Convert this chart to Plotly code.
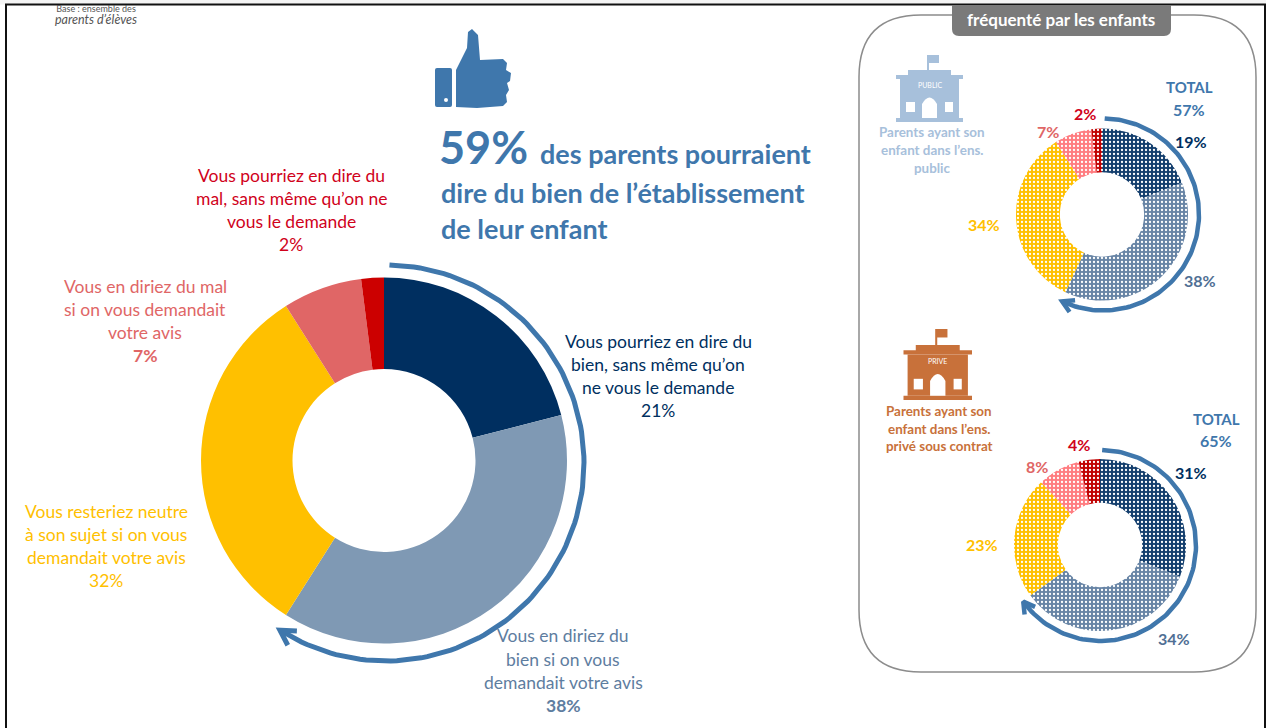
import numpy as np
import plotly.graph_objects as go

# ---------- data ----------
categories = [
    "Vous pourriez en dire du bien, sans même qu’on ne vous le demande",
    "Vous en diriez du bien si on vous demandait votre avis",
    "Vous resteriez neutre à son sujet si on vous demandait votre avis",
    "Vous en diriez du mal si on vous demandait votre avis",
    "Vous pourriez en dire du mal, sans même qu’on ne vous le demande",
]
all_parents = [21, 38, 32, 7, 2]
public_parents = [19, 38, 34, 7, 2]
private_parents = [31, 34, 23, 8, 4]
total_all = 59
total_public = 57
total_private = 65

colors_solid = ["#002F60", "#7F99B4", "#FFC000", "#E06666", "#CC0000"]
colors_hatched = ["#123D6C", "#6784A5", "#FFC000", "#FF7C80", "#C00000"]

FONT = "Lato, 'Open Sans', sans-serif"
BLUE = "#3F77AC"
W, H = 1266, 728

fig = go.Figure()


def donut(values, cx, cy, r, hole, colors, hatched=False):
    marker = dict(colors=colors, line=dict(width=0))
    if hatched:
        marker["pattern"] = dict(shape=".", fgcolor="white", bgcolor=colors,
                                 size=4, solidity=0.26, fillmode="replace")
    fig.add_trace(go.Pie(
        labels=categories, values=values, sort=False, direction="clockwise",
        rotation=0, hole=hole, textinfo="none", hoverinfo="label+percent",
        showlegend=False, marker=marker,
        domain=dict(x=[(cx - r) / W, (cx + r) / W],
                    y=[1 - (cy + r) / H, 1 - (cy - r) / H]),
    ))


def arrow_arc(total, cx, cy, r, width, head):
    theta = np.radians(np.linspace(1, total * 3.6, 120))
    fig.add_trace(go.Scatter(
        x=cx + r * np.sin(theta), y=cy - r * np.cos(theta), mode="lines",
        line=dict(color=BLUE, width=width), hoverinfo="skip", showlegend=False))
    # chevron head, oriented along the arc's tangent at its end
    end = theta[-1]
    tipx, tipy = cx + r * np.sin(end), cy - r * np.cos(end)
    barbs = [end + np.pi + np.radians(30), end + np.pi - np.radians(30)]
    fig.add_trace(go.Scatter(
        x=[tipx + head * np.cos(barbs[0]), tipx, tipx + head * np.cos(barbs[1])],
        y=[tipy + head * np.sin(barbs[0]), tipy, tipy + head * np.sin(barbs[1])],
        mode="lines", line=dict(color=BLUE, width=width), hoverinfo="skip", showlegend=False))


donut(all_parents, 384, 460.5, 183, 0.5, colors_solid)
donut(public_parents, 1102, 214.5, 86, 0.49, colors_hatched, True)
donut(private_parents, 1100, 545, 86, 0.49, colors_hatched, True)
arrow_arc(total_all, 386, 463, 198, 5, 17)
arrow_arc(total_public, 1103, 214.5, 96, 4.5, 13)
arrow_arc(total_private, 1100.5, 545.5, 95.5, 4.5, 13)

annotations = []


def label(x, y, text, color, size=17.5, bold=False, anchor="center", italic=False):
    if bold:
        text = f"<b>{text}</b>"
    if italic:
        text = f"<i>{text}</i>"
    annotations.append(dict(x=x, y=y - 1, xref="x", yref="y", text=text, showarrow=False,
                            xanchor=anchor, yanchor="middle",
                            font=dict(family=FONT, size=size, color=color)))


def block(x, ys, lines, color, size=17.5, last_bold=False, bold=False):
    for i, (y, line) in enumerate(zip(ys, lines)):
        label(x, y, line, color, size, bold or (last_bold and i == len(lines) - 1))


# main donut labels
block(291, [176, 199, 222, 245],
      ["Vous pourriez en dire du", "mal, sans même qu’on ne", "vous le demande", f"{all_parents[4]}%"],
      "#D0021B")
block(145, [287, 310, 333, 356],
      ["Vous en diriez du mal", "si on vous demandait", "votre avis", f"{all_parents[3]}%"],
      "#E06666", last_bold=True)
block(658, [342, 365, 388, 411],
      ["Vous pourriez en dire du", "bien, sans même qu’on", "ne vous le demande", f"{all_parents[0]}%"],
      "#002F60")
block(106, [512, 535, 558, 581],
      ["Vous resteriez neutre", "à son sujet si on vous", "demandait votre avis", f"{all_parents[2]}%"],
      "#FFC000")
block(563, [636, 660, 683, 706],
      ["Vous en diriez du", "bien si on vous", "demandait votre avis", f"{all_parents[1]}%"],
      "#5E7DA0", last_bold=True)

# headline
label(437, 148, f"{total_all}%", BLUE, 45, True, "left")
label(538, 154, "des parents pourraient", BLUE, 27, True, "left")
label(439, 193, "dire du bien de l’établissement", BLUE, 27, True, "left")
label(439, 229, "de leur enfant", BLUE, 27, True, "left")

# caption top-left: one two-line text
label(96, 15.5,
      "Base : ensemble des<br><span style='font-size:12.5px'><i>parents d’élèves</i></span>",
      "#555555", 9)

# right panel
label(1061, 20, "fréquenté par les enfants", "white", 17, True)
block(932, [133, 151, 169], ["Parents ayant son", "enfant dans l’ens.", "public"], "#A7C0DB", 13.4, bold=True)
block(939, [412, 430, 447], ["Parents ayant son", "enfant dans l’ens.", "privé sous contrat"], "#C8713A", 13.4, bold=True)
SMALL = 16
label(1189, 88, "TOTAL", BLUE, 15, True)
label(1189, 110, f"{total_public}%", BLUE, SMALL, True)
label(1191, 142, f"{public_parents[0]}%", "#002F60", SMALL, True)
label(1200, 281, f"{public_parents[1]}%", "#4F6F94", SMALL, True)
label(984, 225, f"{public_parents[2]}%", "#FFC000", SMALL, True)
label(1048, 132, f"{public_parents[3]}%", "#E06666", SMALL, True)
label(1085, 114, f"{public_parents[4]}%", "#D0021B", SMALL, True)
label(1216, 420, "TOTAL", BLUE, 15, True)
label(1216, 441, f"{total_private}%", BLUE, SMALL, True)
label(1191, 473, f"{private_parents[0]}%", "#002F60", SMALL, True)
label(1174, 639, f"{private_parents[1]}%", "#4F6F94", SMALL, True)
label(982, 545, f"{private_parents[2]}%", "#FFC000", SMALL, True)
label(1037, 467, f"{private_parents[3]}%", "#E06666", SMALL, True)
label(1079, 445, f"{private_parents[4]}%", "#D0021B", SMALL, True)

shapes = []


def path(d, fill=None, line=None, width=0):
    shapes.append(dict(type="path", path=d, xref="x", yref="y", fillcolor=fill or "rgba(0,0,0,0)",
                       line=dict(color=line or "rgba(0,0,0,0)", width=width)))


def rect(x0, y0, x1, y1, fill):
    path(f"M{x0},{y0}L{x1},{y0}L{x1},{y1}L{x0},{y1}Z", fill)


# strip above the frame, then the frame
rect(0, 0, 1266, 4.5, "#F4F4F4")
shapes.append(dict(type="rect", x0=6, y0=4.5, x1=1265, y1=760, xref="x", yref="y",
                   line=dict(color="#111111", width=2)))

# rounded panel
px0, py0, px1, py1, pr = 859, 15, 1256, 672, 62
path(f"M{px0+pr},{py0}L{px1-pr},{py0}Q{px1},{py0} {px1},{py0+pr}L{px1},{py1-pr}"
     f"Q{px1},{py1} {px1-pr},{py1}L{px0+pr},{py1}Q{px0},{py1} {px0},{py1-pr}"
     f"L{px0},{py0+pr}Q{px0},{py0} {px0+pr},{py0}Z", None, "#8C8C8C", 1.5)
# tab
path("M952,5L1171,5L1171,29Q1171,36 1164,36L959,36Q952,36 952,29Z", "#7A7A7A")


def building(x, y, w, h, color, name):
    sx, sy = w / 67, h / 67

    def X(v):
        return round(x + v * sx, 2)

    def Y(v):
        return round(y + v * sy, 2)

    rect(X(32), Y(0), X(43), Y(8), color)          # flag
    rect(X(31), Y(0), X(33), Y(16), color)         # pole
    rect(X(12), Y(15), X(55), Y(21), color)        # roof
    rect(X(0), Y(20), X(67), Y(24), color)         # cornice
    rect(X(4), Y(24), X(63), Y(63), color)         # body
    rect(X(0), Y(63), X(67), Y(67), color)         # base
    rect(X(10), Y(47), X(19), Y(57), "white")
    rect(X(49), Y(47), X(57), Y(57), "white")
    path(f"M{X(26)},{Y(63)}L{X(26)},{Y(49)}Q{X(33.5)},{Y(36)} {X(41)},{Y(49)}L{X(41)},{Y(63)}Z", "white")
    label(X(33.5), Y(30) + 1, name, "white", 7)


building(896, 55, 67, 67, "#A7C0DB", "PUBLIC")
building(903.5, 329, 68.5, 71, "#C8713A", "PRIVE")

# thumbs-up icon
path("M437,68L450,68Q452,68 452,70L452,105Q452,107 450,107L437,107Q435,107 435,105L435,70Q435,68 437,68Z", BLUE)
thumb = [(456, 107), (456, 70), (467, 48), (468, 32), (472, 29), (478, 35), (480, 60), (503, 59),
         (507, 63), (506, 70), (511, 73), (510, 81), (507, 83), (509, 90), (506, 95), (507, 102),
         (503, 106), (477, 108)]
path("M" + "L".join(f"{a},{b}" for a, b in thumb) + "Z", BLUE)
shapes.append(dict(type="circle", x0=444, y0=98, x1=448, y1=102, xref="x", yref="y",
                   fillcolor="white", line=dict(width=0)))

fig.update_layout(
    width=W, height=H, margin=dict(l=0, r=0, t=0, b=0),
    paper_bgcolor="white", plot_bgcolor="rgba(0,0,0,0)", showlegend=False,
    xaxis=dict(range=[0, W], visible=False, fixedrange=True, domain=[0, 1]),
    yaxis=dict(range=[H, 0], visible=False, fixedrange=True, domain=[0, 1]),
    annotations=annotations, shapes=shapes,
)
fig.write_html("out.html", config=dict(displayModeBar=False),
               post_script="document.body.style.margin='0';document.body.style.overflow='hidden';")
